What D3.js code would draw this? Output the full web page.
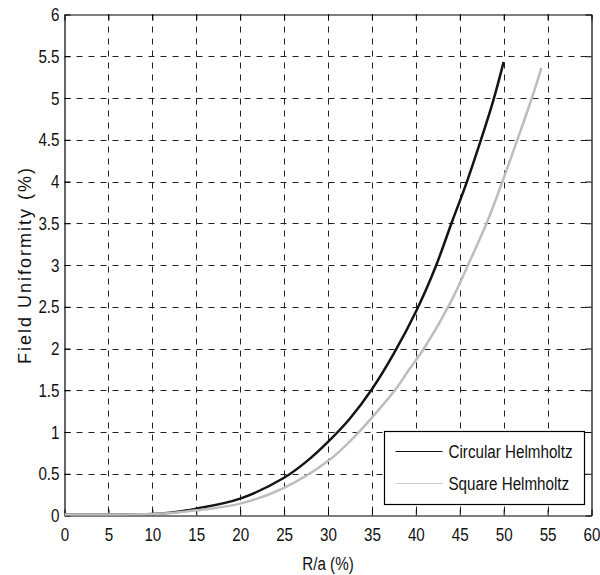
<!DOCTYPE html>
<html>
<head>
<meta charset="utf-8">
<script src="https://cdn.jsdelivr.net/npm/d3@7"></script>
<style>
  body { margin: 0; background: #fff; }
  svg { display: block; }
</style>
</head>
<body>
<div id="chart"></div>
<script>
// Field uniformity vs R/a — circular vs square Helmholtz coils
const xTicks = [0, 5, 10, 15, 20, 25, 30, 35, 40, 45, 50, 55, 60];
const yTicks = [0, 0.5, 1, 1.5, 2, 2.5, 3, 3.5, 4, 4.5, 5, 5.5, 6];

const circX = [0, 5, 10, 12, 15, 20, 25, 27.5, 30, 32.5, 35, 37.5, 40.1, 42.3, 44.1, 45.7, 47.3, 48.8, 50];
const circY = [0, 0, 0.005, 0.02, 0.07, 0.19, 0.44, 0.63, 0.87, 1.15, 1.5, 1.93, 2.45, 2.98, 3.5, 3.95, 4.45, 4.95, 5.42];

const sqX = [0, 10, 12.5, 15, 20, 25, 30, 33, 35, 37.7, 39.2, 41, 44, 46, 48.1, 49.8, 51.6, 53.25, 54.3];
const sqY = [0, 0.005, 0.02, 0.05, 0.13, 0.32, 0.64, 0.93, 1.16, 1.5, 1.73, 2.0, 2.55, 3.0, 3.5, 3.97, 4.5, 5.0, 5.35];

const seriesNames = ['Circular Helmholtz', 'Square Helmholtz'];
const seriesColors = ['#141414', '#bdbdbd'];
const legendColors = ['#141414', '#cfcfcf'];

const W = 600, H = 575;
const LEFT = 64.5, RIGHT = 591.5, TOP = 14.5, BOTTOM = 515.5;
const FONT = '"Liberation Sans", Arial, sans-serif';

// squeeze text horizontally to mimic the narrow export font
function narrow(sel, k = 0.8) {
  sel.each(function () {
    const t = d3.select(this);
    const x0 = +t.attr('x') || 0;
    t.attr('x', x0 / k).attr('transform', `scale(${k},1)`);
  });
}

const svg = d3.select('#chart').append('svg')
  .attr('width', W).attr('height', H)
  .style('font-family', FONT);

const x = d3.scaleLinear().domain([0, 60]).range([LEFT, RIGHT]);
const y = d3.scaleLinear().domain([0, 6]).range([BOTTOM, TOP]);

// grid
const grid = svg.append('g')
  .attr('stroke', '#222').attr('stroke-width', 1).attr('stroke-dasharray', '6,6');
grid.selectAll('line.v').data(xTicks.slice(1, -1)).join('line')
  .attr('x1', d => Math.round(x(d)) + 0.5).attr('x2', d => Math.round(x(d)) + 0.5)
  .attr('y1', TOP).attr('y2', BOTTOM);
grid.selectAll('line.h').data(yTicks.slice(1, -1)).join('line')
  .attr('y1', d => Math.round(y(d)) + 0.5).attr('y2', d => Math.round(y(d)) + 0.5)
  .attr('x1', LEFT).attr('x2', RIGHT);

// axes box with inward ticks on all sides
const tickLen = 6;
const fmt = d3.format('~g');
const axB = svg.append('g').attr('transform', `translate(0,${BOTTOM})`)
  .call(d3.axisBottom(x).tickValues(xTicks).tickFormat(fmt).tickSizeInner(-tickLen).tickSizeOuter(0).tickPadding(12));
const axT = svg.append('g').attr('transform', `translate(0,${TOP})`)
  .call(d3.axisTop(x).tickValues(xTicks).tickSizeInner(-tickLen).tickSizeOuter(0).tickFormat(''));
const axL = svg.append('g').attr('transform', `translate(${LEFT},0)`)
  .call(d3.axisLeft(y).tickValues(yTicks).tickFormat(fmt).tickSizeInner(-tickLen).tickSizeOuter(0).tickPadding(5));
const axR = svg.append('g').attr('transform', `translate(${RIGHT},0)`)
  .call(d3.axisRight(y).tickValues(yTicks).tickSizeInner(-tickLen).tickSizeOuter(0).tickFormat(''));

[axB, axT, axL, axR].forEach(a => {
  a.select('.domain').attr('stroke', '#000').attr('stroke-width', 1.2);
  a.selectAll('.tick line').attr('stroke', '#000');
  a.selectAll('text').style('font-family', FONT).style('font-size', '19px').attr('fill', '#111');
});
narrow(axB.selectAll('text'));
narrow(axL.selectAll('text'));

// curves (drawn over the axis line, as in the original export)
const line = d3.line().x(d => x(d[0])).y(d => y(d[1]) - 1).curve(d3.curveCatmullRom.alpha(0.5));
const series = [d3.zip(circX, circY), d3.zip(sqX, sqY)];
svg.selectAll('path.curve').data(series).join('path')
  .attr('class', 'curve')
  .attr('d', line)
  .attr('fill', 'none')
  .attr('stroke', (d, i) => seriesColors[i])
  .attr('stroke-width', 2.5)
  .attr('stroke-linejoin', 'round');

// axis labels
svg.append('text')
  .attr('x', (LEFT + RIGHT) / 2).attr('y', 570)
  .attr('text-anchor', 'middle')
  .style('font-size', '19px').attr('fill', '#111')
  .text('R/a (%)')
  .call(narrow);

svg.append('text')
  .attr('transform', `translate(31,${(TOP + BOTTOM) / 2}) rotate(-90)`)
  .attr('text-anchor', 'middle')
  .style('font-size', '18px').style('letter-spacing', '2px').attr('fill', '#111')
  .text('Field Uniformity (%)');

// legend
const lg = svg.append('g').attr('transform', 'translate(384.5,431.5)');
lg.append('rect').attr('width', 200).attr('height', 73)
  .attr('fill', '#fff').attr('stroke', '#000').attr('stroke-width', 1.2);
const items = lg.selectAll('g.item').data(seriesNames).join('g')
  .attr('transform', (d, i) => `translate(0,${20 + i * 32})`);
items.append('line').attr('x1', 11).attr('x2', 58)
  .attr('stroke', (d, i) => legendColors[i]).attr('stroke-width', 1);
items.append('text').attr('x', 64).attr('dy', '0.35em')
  .style('font-size', '19px').attr('fill', '#111')
  .text(d => d)
  .call(narrow);
</script>
</body>
</html>
